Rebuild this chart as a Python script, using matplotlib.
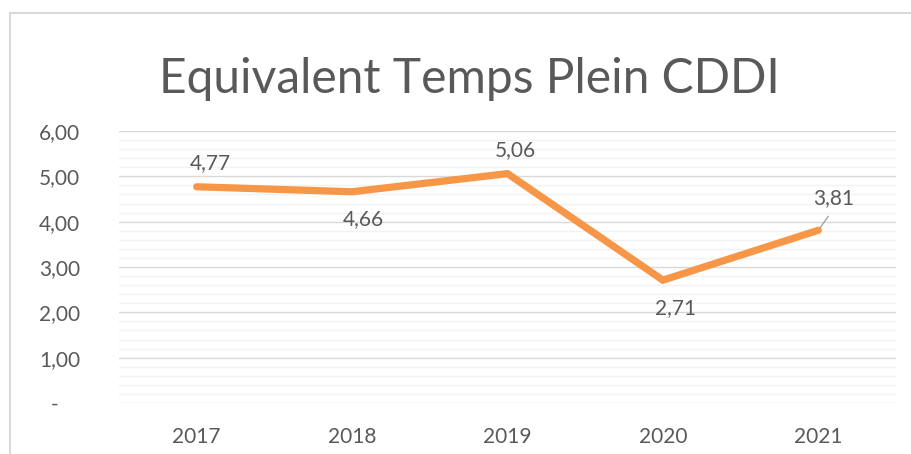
import matplotlib
matplotlib.use("Agg")
import matplotlib.pyplot as plt
import numpy as np
from matplotlib.patches import Rectangle
from matplotlib.ticker import MultipleLocator, FuncFormatter

# data
years = ["2017", "2018", "2019", "2020", "2021"]
etp = [4.77, 4.66, 5.06, 2.71, 3.81]
# label offsets in pixels (dx, dy) relative to each point
lbl_off = [(14, 24), (11, -27), (8, 24), (13, -28), (15, 32)]

plt.rcParams['font.family'] = ['Lato', 'DejaVu Sans']
txt_col = '#595959'

fig = plt.figure(figsize=(9.11, 4.54), dpi=100)
ax = fig.add_axes([119/911, 1-403/454, 777/911, 272/454])

x = np.arange(len(years))
ax.plot(x, etp, color='#F79646', lw=5.2, solid_capstyle='round',
        solid_joinstyle='miter', zorder=3)

ax.set_xlim(-0.5, len(years)-0.5)
ax.set_ylim(0, 6)
ax.yaxis.set_major_locator(MultipleLocator(1))
ax.yaxis.set_minor_locator(MultipleLocator(0.2))

def yfmt(v, pos):
    if abs(v) < 1e-9:
        return "-    "
    return ("%.2f" % v).replace('.', ',')
ax.yaxis.set_major_formatter(FuncFormatter(yfmt))

ax.set_xticks(x)
ax.set_xticklabels(years)
ax.tick_params(axis='both', which='both', length=0, labelsize=15, labelcolor=txt_col)
ax.tick_params(axis='y', pad=28)
ax.tick_params(axis='x', pad=17)

ax.grid(True, which='minor', axis='y', color='#F2F2F2', lw=1.0, zorder=0)
ax.grid(True, which='major', axis='y', color='#D9D9D9', lw=1.0, zorder=1)
ax.set_axisbelow(True)
for s in ax.spines.values():
    s.set_visible(False)

for i, v in enumerate(etp):
    dx, dy = lbl_off[i]
    lab = ("%.2f" % v).replace('.', ',')
    ax.annotate(lab, (x[i], v), xytext=(dx, dy), textcoords='offset pixels',
                ha='center', va='center', fontsize=15, color=txt_col, zorder=4)

# leader line for the last label
ax.annotate("", (x[-1], etp[-1]), xytext=(10, 14), textcoords='offset pixels',
            arrowprops=dict(arrowstyle='-', color='#A6A6A6', lw=1.0,
                            shrinkA=0, shrinkB=0), zorder=2)

fig.text(469/911, 1-92.7/454, "Equivalent Temps Plein CDDI", ha='center',
         va='baseline', fontsize=34.5, color=txt_col)

# chart frame (cut off on right and bottom)
fig.patches.append(Rectangle((10/911, -0.1), 1.2, 1.1 - 13/454,
                             transform=fig.transFigure, fill=False,
                             edgecolor='#D9D9D9', lw=1.5))

fig.savefig("out.png", dpi=100, facecolor='white')
